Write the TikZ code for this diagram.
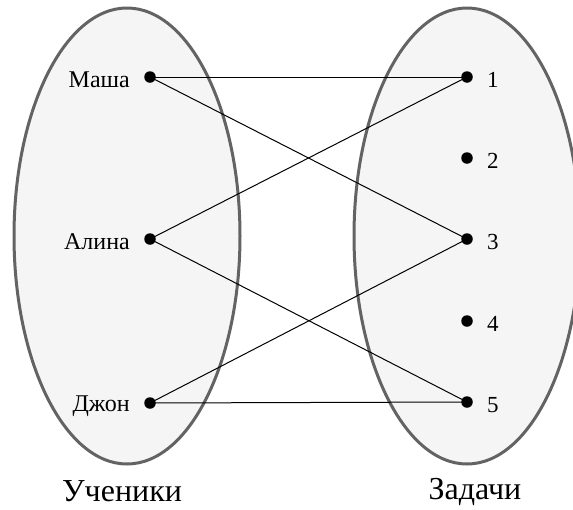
\documentclass[tikz,border=0pt]{standalone}
\usepackage{fontspec}
\setmainfont{Liberation Serif}
\definecolor{setfill}{HTML}{F5F5F5}
\definecolor{setline}{HTML}{636363}
\begin{document}
\begin{tikzpicture}[x=1pt,y=-1pt,
  setshape/.style={draw=setline,fill=setfill,line width=3pt},
  dotnode/.style={circle,fill=black,inner sep=0pt,minimum size=11.5pt},
  namelbl/.style={font=\fontsize{24}{28}\selectfont,anchor=east,inner sep=0pt},
  numlbl/.style={font=\fontsize{23}{27}\selectfont,anchor=west,inner sep=0pt},
  setlbl/.style={font=\fontsize{32}{36}\selectfont,anchor=base},
  link/.style={line width=1pt,black}]
\useasboundingbox (0,0) rectangle (573,509);
\clip (0,0) rectangle (573,509);
\draw[setshape] (127,236) ellipse [x radius=113,y radius=228];
\draw[setshape] (467,236) ellipse [x radius=113,y radius=228];

\node[dotnode] (m) at (150,77) {};
\node[dotnode] (a) at (150,239) {};
\node[dotnode] (d) at (150,403) {};
\node[dotnode] (t1) at (467,77) {};
\node[dotnode] (t2) at (467,158) {};
\node[dotnode] (t3) at (467,239) {};
\node[dotnode] (t4) at (467,321) {};
\node[dotnode] (t5) at (467,402) {};

\node[namelbl] (lm) at (130,80) {Маша};
\node[namelbl] (la) at (130,242) {Алина};
\node[namelbl] (ld) at (130,406) {Джон};
\node[numlbl] (l1) at (487,80) {1};
\node[numlbl] (l2) at (487,161) {2};
\node[numlbl] (l3) at (487,242) {3};
\node[numlbl] (l4) at (487,324) {4};
\node[numlbl] (l5) at (487,405) {5};

\draw[link] (m.center) -- (t1.center);
\draw[link] (m.center) -- (t3.center);
\draw[link] (a.center) -- (t1.center);
\draw[link] (a.center) -- (t5.center);
\draw[link] (d.center) -- (t3.center);
\draw[link] (d.center) -- (t5.center);

\node[setlbl] (s1) at (122,501) {Ученики};
\node[setlbl] (s2) at (475,499) {Задачи};
\end{tikzpicture}
\end{document}
